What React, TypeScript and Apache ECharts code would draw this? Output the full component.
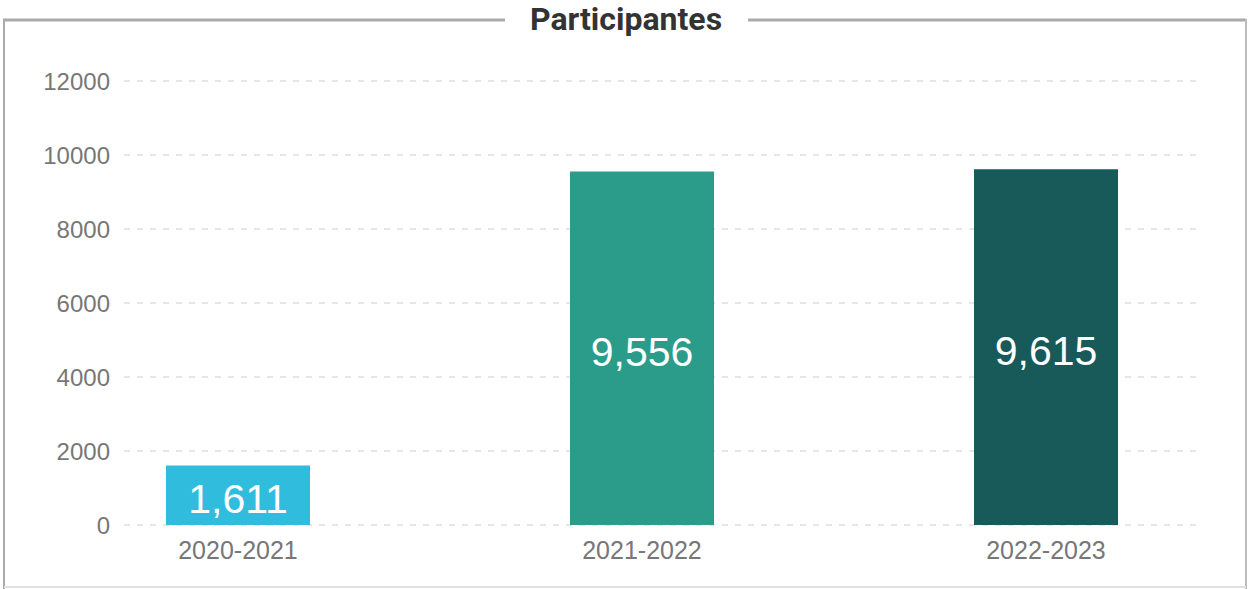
import React, { useEffect, useRef } from "react";
import * as echarts from "echarts";

const categories = ["2020-2021", "2021-2022", "2022-2023"];
const participants = [1611, 9556, 9615];
const barColors = ["#30BCDD", "#2B9B8A", "#18595A"];
const titleText = "Participantes";

export default function App() {
  const ref = useRef<HTMLDivElement>(null);
  useEffect(() => {
    const chart = echarts.init(ref.current!, null, { renderer: "svg" });
    const labelFont = "Liberation Sans, Arial, sans-serif";
    chart.setOption({
      animation: false,
      backgroundColor: "#ffffff",
      grid: [
        { left: 124, right: 46, top: 81, bottom: 64 },
        { left: 36, width: 1213, top: 81, bottom: 64 },
      ],
      xAxis: [
        { type: "category", gridIndex: 0, data: categories, show: false },
        {
          type: "category",
          gridIndex: 1,
          data: categories,
          axisLine: { show: false },
          axisTick: { show: false },
          axisLabel: { color: "#777", fontSize: 25, fontFamily: labelFont, margin: 12 },
        },
      ],
      yAxis: [
        {
          type: "value",
          gridIndex: 0,
          min: 0,
          max: 12000,
          interval: 2000,
          axisLine: { show: false },
          axisTick: { show: false },
          axisLabel: {
            color: "#777",
            fontSize: 24,
            fontFamily: labelFont,
            margin: 14,
            formatter: (v: number) => String(v),
          },
          splitLine: { lineStyle: { color: "#dedede", type: [6, 7], width: 1.5 } },
        },
        { type: "value", gridIndex: 1, min: 0, max: 12000, interval: 2000, show: false },
      ],
      series: [
        {
          type: "bar",
          xAxisIndex: 1,
          yAxisIndex: 1,
          barWidth: 144,
          data: participants.map((v, i) => ({ value: v, itemStyle: { color: barColors[i] } })),
          label: {
            show: true,
            position: "inside",
            offset: [0, 4],
            color: "#ffffff",
            fontSize: 41,
            fontFamily: labelFont,
            formatter: (p: any) => Number(p.value).toLocaleString("en-US"),
          },
        },
      ],
      graphic: [
        { type: "line", shape: { x1: 3, y1: 20, x2: 505, y2: 20 }, style: { stroke: "#aaaaaa", lineWidth: 3 } },
        { type: "line", shape: { x1: 748, y1: 20, x2: 1246, y2: 20 }, style: { stroke: "#aaaaaa", lineWidth: 3 } },
        { type: "line", shape: { x1: 4, y1: 19, x2: 4, y2: 589 }, style: { stroke: "#aaaaaa", lineWidth: 2 } },
        { type: "line", shape: { x1: 1246, y1: 19, x2: 1246, y2: 589 }, style: { stroke: "#bbbbbb", lineWidth: 2 } },
        { type: "line", shape: { x1: 4, y1: 587, x2: 1246, y2: 587 }, style: { stroke: "#e2e2e2", lineWidth: 2 } },
        {
          type: "text",
          x: 626,
          y: 19,
          style: {
            text: titleText,
            fill: "#333333",
            font: "bold 32px Roboto, sans-serif",
            textAlign: "center",
            textVerticalAlign: "middle",
          },
        },
      ],
    });
    return () => chart.dispose();
  }, []);
  return <div ref={ref} style={{ position: "fixed", left: 0, top: 0, width: 1248, height: 589 }} />;
}
